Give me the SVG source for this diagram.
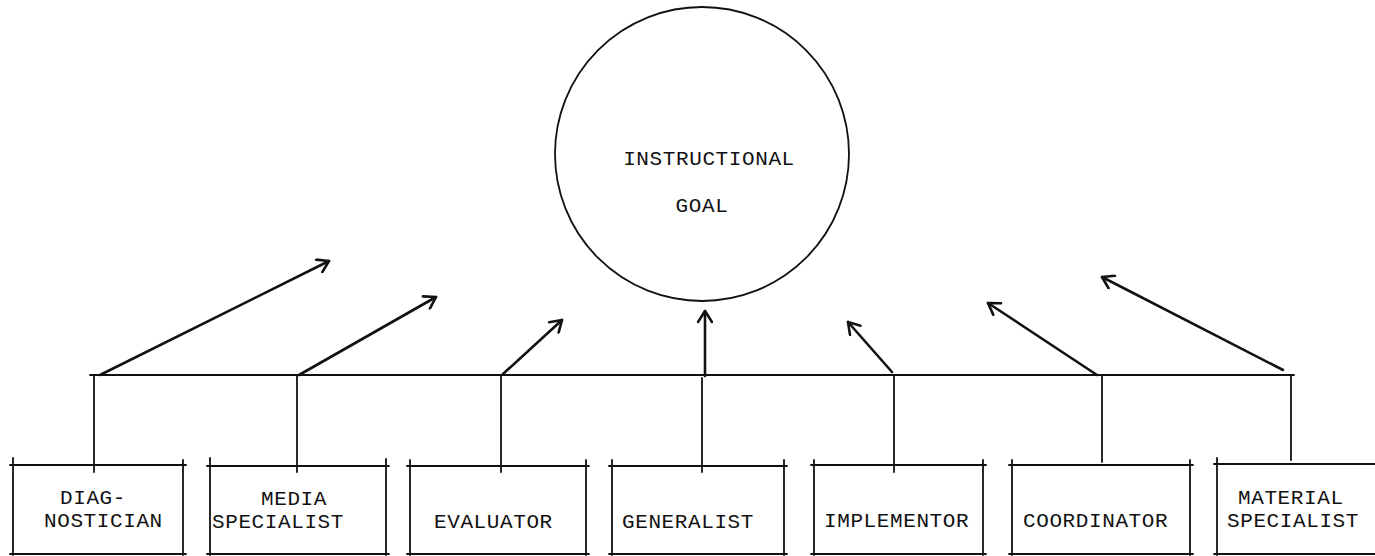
<svg xmlns="http://www.w3.org/2000/svg" width="1375" height="556" viewBox="0 0 1375 556">
  <style>
    .ink { fill: none; stroke: #111; stroke-width: 1.8; stroke-linecap: round; }
    .arrow { fill: none; stroke: #111; stroke-width: 2.6; stroke-linecap: round; marker-end: url(#head); }
    .label { font-family: "Liberation Mono", "DejaVu Sans Mono", monospace; font-size: 21px; letter-spacing: 0.6px; fill: #111; }
  </style>
  <defs>
    <marker id="head" viewBox="-14 -8 16 16" markerWidth="16" markerHeight="16" refX="0" refY="0" orient="auto" markerUnits="userSpaceOnUse">
      <path d="M -11 -7 L 0 0 L -11 7" fill="none" stroke="#111" stroke-width="2.6" stroke-linecap="round" stroke-linejoin="round"/>
    </marker>
  </defs>

  <rect width="1375" height="556" fill="#fff"/>

  <!-- goal -->
  <g id="goal">
    <circle class="ink" cx="702" cy="154" r="147"/>
    <text class="label" x="709" y="165" text-anchor="middle">INSTRUCTIONAL</text>
    <text class="label" x="702" y="212" text-anchor="middle">GOAL</text>
  </g>

  <!-- connectors: bus, stems and arrows toward the goal -->
  <g id="connectors">
    <line class="ink" x1="90" y1="375" x2="1294" y2="375"/>
    <line class="ink" x1="94" y1="375" x2="94" y2="472"/>
    <line class="ink" x1="297" y1="375" x2="297" y2="472"/>
    <line class="ink" x1="501" y1="375" x2="501" y2="472"/>
    <line class="ink" x1="702" y1="378" x2="702" y2="472"/>
    <line class="ink" x1="894" y1="375" x2="894" y2="472"/>
    <line class="ink" x1="1102" y1="375" x2="1102" y2="462"/>
    <line class="ink" x1="1291" y1="375" x2="1291" y2="460"/>

    <line class="arrow" x1="100" y1="375" x2="329" y2="261"/>
    <line class="arrow" x1="299" y1="375" x2="436" y2="297"/>
    <line class="arrow" x1="503" y1="374" x2="562" y2="320"/>
    <line class="arrow" x1="705" y1="376" x2="705" y2="311"/>
    <line class="arrow" x1="892" y1="372" x2="848" y2="322"/>
    <line class="arrow" x1="1097" y1="375" x2="988" y2="303"/>
    <line class="arrow" x1="1283" y1="370" x2="1102" y2="277"/>
  </g>

  <!-- role boxes -->
  <g id="diagnostician">
    <path class="ink" d="M 10 465 H 186 M 13 458 V 555 M 183 460 V 555 M 10 554 H 186"/>
    <text class="label" x="60" y="504">DIAG-</text>
    <text class="label" x="44" y="527">NOSTICIAN</text>
  </g>
  <g id="media-specialist">
    <path class="ink" d="M 207 466 H 389 M 210 458 V 555 M 386 459 V 555 M 207 554 H 389"/>
    <text class="label" x="261" y="505">MEDIA</text>
    <text class="label" x="212" y="528">SPECIALIST</text>
  </g>
  <g id="evaluator">
    <path class="ink" d="M 407 466 H 589 M 410 460 V 555 M 586 460 V 555 M 407 554 H 589"/>
    <text class="label" x="434" y="528">EVALUATOR</text>
  </g>
  <g id="generalist">
    <path class="ink" d="M 609 466 H 787 M 612 460 V 555 M 784 460 V 555 M 609 554 H 787"/>
    <text class="label" x="622" y="528">GENERALIST</text>
  </g>
  <g id="implementor">
    <path class="ink" d="M 811 465 H 986 M 814 460 V 555 M 983 460 V 555 M 811 554 H 986"/>
    <text class="label" x="824" y="527">IMPLEMENTOR</text>
  </g>
  <g id="coordinator">
    <path class="ink" d="M 1009 465 H 1193 M 1012 460 V 555 M 1190 460 V 555 M 1009 554 H 1193"/>
    <text class="label" x="1023" y="527">COORDINATOR</text>
  </g>
  <g id="material-specialist">
    <path class="ink" d="M 1214 464 H 1375 M 1217 458 V 555 M 1214 554 H 1375"/>
    <text class="label" x="1238" y="504">MATERIAL</text>
    <text class="label" x="1227" y="527">SPECIALIST</text>
  </g>
</svg>
